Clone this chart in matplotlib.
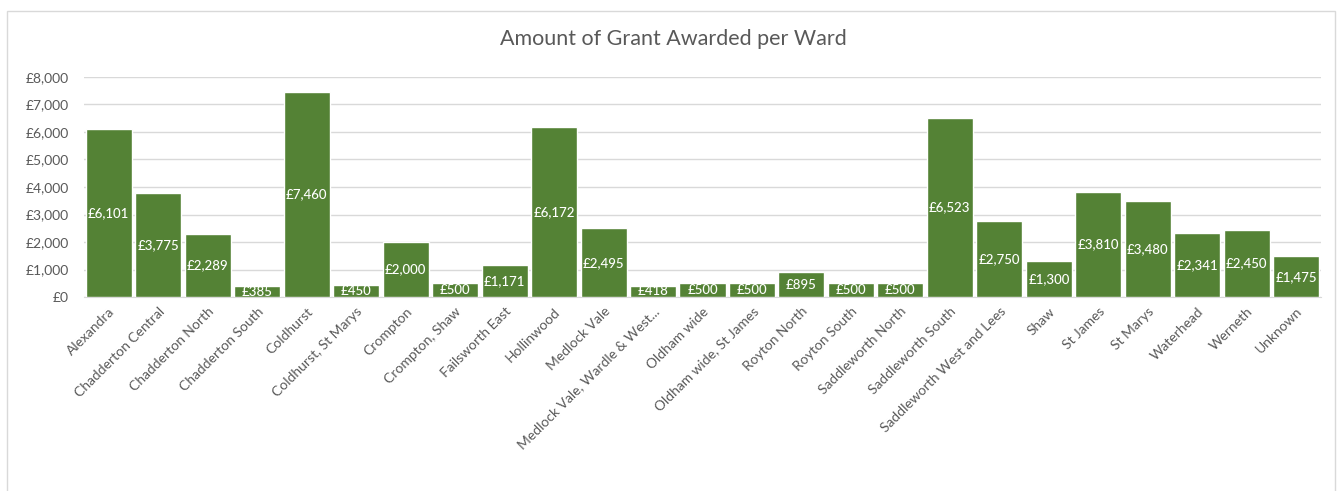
import matplotlib.pyplot as plt
from matplotlib.patches import Rectangle
from matplotlib.ticker import FuncFormatter

plt.rcParams['font.family'] = ['Lato', 'DejaVu Sans']

wards = [
    "Alexandra", "Chadderton Central", "Chadderton North", "Chadderton South",
    "Coldhurst", "Coldhurst, St Marys", "Crompton", "Crompton, Shaw",
    "Failsworth East", "Hollinwood", "Medlock Vale", "Medlock Vale, Wardle & West...",
    "Oldham wide", "Oldham wide, St James", "Royton North", "Royton South",
    "Saddleworth North", "Saddleworth South", "Saddleworth West and Lees", "Shaw",
    "St James", "St Marys", "Waterhead", "Werneth", "Unknown",
]
grant = [
    6101, 3775, 2289, 385,
    7460, 450, 2000, 500,
    1171, 6172, 2495, 418,
    500, 500, 895, 500,
    500, 6523, 2750, 1300,
    3810, 3480, 2341, 2450, 1475,
]

green = "#548235"
grey_text = "#595959"
grid_col = "#d9d9d9"

fig = plt.figure(figsize=(13.38, 4.91), dpi=100)
# chart frame
fig.patches.append(Rectangle((7 / 1338, -0.1), 1328 / 1338, 1.1 - 11 / 491,
                             transform=fig.transFigure, fill=False,
                             edgecolor=grid_col, linewidth=1))

ax = fig.add_axes([84 / 1338, 1 - 297 / 491, (1321 - 84) / 1338, (297 - 77) / 491])
x = range(len(wards))
bars = ax.bar(x, grant, width=0.93, color=green, edgecolor="white", linewidth=1, zorder=3)

for i, v in enumerate(grant):
    ax.text(i, v / 2, f"£{v:,}", ha="center", va="center", color="white",
            fontsize=9.5, fontweight="medium", zorder=4)

ax.set_xlim(-0.5, len(wards) - 0.5)
ax.set_ylim(0, 8000)
ax.set_yticks(range(0, 8001, 1000))
ax.yaxis.set_major_formatter(FuncFormatter(lambda v, p: f"£{int(v):,}"))
ax.grid(axis="y", color=grid_col, linewidth=1, zorder=0)

ax.set_xticks(list(x))
ax.set_xticklabels(wards, rotation=45, ha="right", rotation_mode="anchor", fontsize=10, color=grey_text)
ax.tick_params(axis="y", labelsize=10, labelcolor=grey_text, length=0, pad=11)
ax.tick_params(axis="x", length=0, pad=6)

for s in ["top", "right", "left"]:
    ax.spines[s].set_visible(False)
ax.spines["bottom"].set_color(grid_col)

fig.text(673 / 1338, 1 - 39 / 491, "Amount of Grant Awarded per Ward",
         ha="center", va="center", fontsize=15.5, color=grey_text)

fig.savefig("out.png", dpi=100)
